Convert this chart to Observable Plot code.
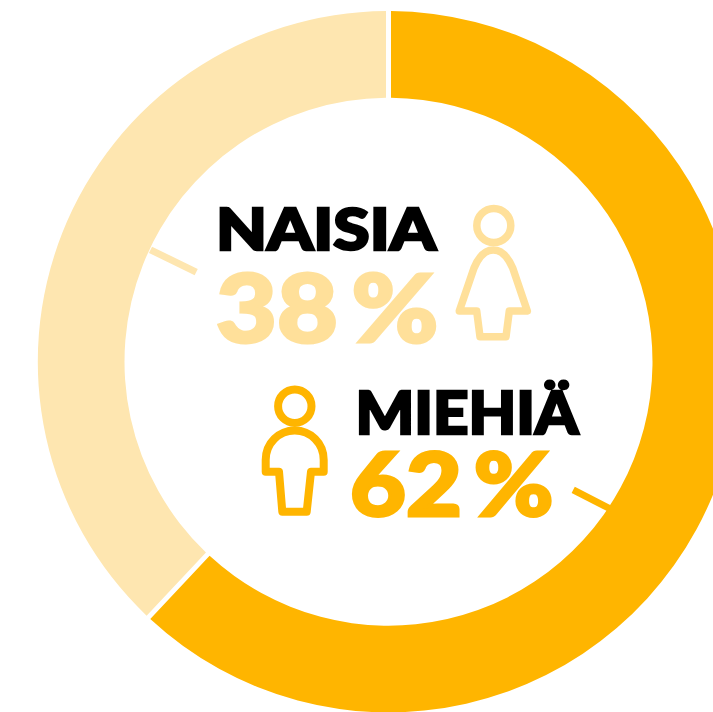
<!DOCTYPE html>
<html>
<head>
<meta charset="utf-8">
<script src="https://cdn.jsdelivr.net/npm/d3@7"></script>
<script src="https://cdn.jsdelivr.net/npm/@observablehq/plot@0.6"></script>
<style>
html,body{margin:0;padding:0;background:#fff;overflow:hidden}
svg{display:block}
</style>
</head>
<body>
<div id="chart"></div>
<script>
const categories = ["MIEHIÄ", "NAISIA"];
const shares = [62, 38];
const percentLabels = ["62 %", "38 %"];
const sliceColors = ["#FFB500", "#FEE6B0"];
const labelColors = ["#FFB500", "#FFE09A"];

const W = 713, H = 712;
const center = [388.5, 361.7];
const rOuter = 350.7, rInner = 264, gap = 5;

const slices = d3.pie().sort(null)(shares);

function donut(index, {x, y}) {
  const g = d3.create("svg:g").attr("class", "donut");
  const arc = d3.arc().innerRadius(rInner).outerRadius(rOuter)
    .padRadius(rOuter).padAngle(gap / rOuter);
  g.selectAll("path").data(slices).join("path")
    .attr("transform", `translate(${x(center[0])},${y(center[1])})`)
    .attr("d", arc)
    .attr("fill", (d, i) => sliceColors[i]);
  return g.node();
}

function bodyIcon(d, color, sw) {
  return () => {
    const g = d3.create("svg:g").attr("class", "icon");
    g.append("path").attr("d", d).attr("fill", "none").attr("stroke", color)
      .attr("stroke-width", sw).attr("stroke-linejoin", "round");
    return g.node();
  };
}

const womanBody = "M459.3,311 L474,268 C479,256 485,250 493.3,250 C501.5,250 507.5,256 512.7,268 L527.3,311 H509.3 L506,336.7 H480 L476.7,311 Z";
const manBody = "M265.7,471.7 V460 C265.7,443 279,430.5 294.7,430.5 C310.4,430.5 323.7,443 323.7,460 V471.7 H311 L306.7,511.7 H282.3 L279,471.7 Z";

const font = "Lato, Inter, sans-serif";
const textRows = [
  {t: categories[1], x: 215.5, y: 249.5, size: 58, fill: "#000", len: 220, ws: 0, sw: 2.5},
  {t: percentLabels[1], x: 215.5, y: 341, size: 94, fill: labelColors[1], len: 222.5, ws: -10, sw: 3},
  {t: categories[0], x: 355, y: 433.5, size: 59, fill: "#000", len: 223, ws: 0, sw: 2.5},
  {t: percentLabels[0], x: 349.5, y: 515.5, size: 87, fill: labelColors[0], len: 203.5, ws: -10, sw: 3}
];

const heads = [
  {x: 493.3, y: 225, c: labelColors[1], sw: 7.5, r: 17},
  {x: 294.3, y: 405.7, c: labelColors[0], sw: 8, r: 16.7}
];
const leaders = [
  {x1: 150, y1: 249.3, x2: 195.7, y2: 271.7, c: sliceColors[1]},
  {x1: 572.7, y1: 489.3, x2: 611, y2: 509, c: sliceColors[0]}
];

const chart = Plot.plot({
  width: W, height: H,
  margin: 0,
  x: {domain: [0, W], range: [0, W], axis: null},
  y: {domain: [0, H], range: [0, H], axis: null},
  r: {type: "identity"},
  style: {background: "#fff", fontFamily: font},
  marks: [
    donut,
    Plot.link(leaders, {x1: "x1", y1: "y1", x2: "x2", y2: "y2", stroke: "c", strokeWidth: 7}),
    Plot.text(textRows, {
      x: "x", y: "y", text: "t", fill: "fill", fontSize: "size", fontWeight: 900,
      textAnchor: "start", lineAnchor: "bottom",
      render(index, scales, values, dims, ctx, next) {
        const g = next(index, scales, values, dims, ctx);
        d3.select(g).selectAll("text").each(function(i) {
          const row = textRows[i];
          this.setAttribute("textLength", row.len);
          this.setAttribute("lengthAdjust", "spacingAndGlyphs");
          this.setAttribute("dy", "0");
          this.setAttribute("stroke", row.fill);
          this.setAttribute("stroke-width", row.sw);
          this.setAttribute("stroke-linejoin", "miter");
          this.style.wordSpacing = row.ws + "px";
        });
        return g;
      }
    }),
    Plot.dot(heads, {x: "x", y: "y", r: "r", stroke: "c", strokeWidth: "sw", fill: "none"}),
    bodyIcon(womanBody, labelColors[1], 7.5),
    bodyIcon(manBody, labelColors[0], 8)
  ]
});
document.getElementById("chart").appendChild(chart);
</script>
</body>
</html>
